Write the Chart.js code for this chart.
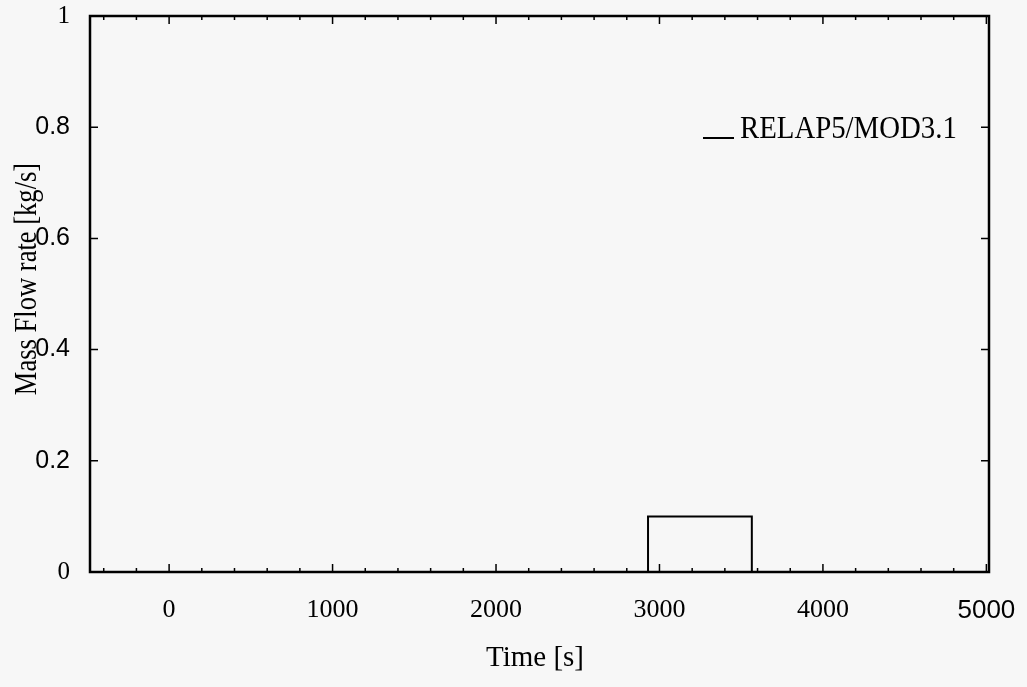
<!DOCTYPE html>
<html>
<head>
<meta charset="utf-8">
<script src="https://cdn.jsdelivr.net/npm/chart.js@4.4.1/dist/chart.umd.min.js"></script>
<style>
  html, body { margin: 0; padding: 0; background: #f7f7f7; }
  #wrap { width: 1027px; height: 687px; }
</style>
</head>
<body>
<div id="wrap"><canvas id="flowChart" width="1027" height="687"></canvas></div>
<script>
// step of the mass flow rate
const timeS = [-484, 2930, 2930, 3565, 3565, 5016];
const flowKgS = [0, 0, 0.1, 0.1, 0, 0];
const xTicks = [0, 1000, 2000, 3000, 4000, 5000];
const yTicks = [0, 0.2, 0.4, 0.6, 0.8, 1];
const seriesName = 'RELAP5/MOD3.1';

const serif = '"Liberation Serif", "Times New Roman", serif';
const sans = '"Liberation Sans", Arial, sans-serif';

// inward ticks on all four sides + frame + titles + legend
const framePlugin = {
    id: 'frame',
    afterDatasetsDraw(chart) {
        const { ctx, chartArea: a, scales: { x, y } } = chart;
        ctx.save();
        ctx.strokeStyle = '#000';
        ctx.lineWidth = 1.5;
        ctx.beginPath();
        for (let v = -400; v <= 5000; v += 200) {
            const px = x.getPixelForValue(v);
            const len = v % 1000 === 0 ? 8 : 4;
            ctx.moveTo(px, a.bottom); ctx.lineTo(px, a.bottom - len);
            ctx.moveTo(px, a.top); ctx.lineTo(px, a.top + len);
        }
        yTicks.forEach(v => {
            const py = y.getPixelForValue(v);
            ctx.moveTo(a.left, py); ctx.lineTo(a.left + 8, py);
            ctx.moveTo(a.right, py); ctx.lineTo(a.right - 8, py);
        });
        ctx.stroke();

        ctx.lineWidth = 2.5;
        ctx.strokeRect(a.left, a.top, a.right - a.left, a.bottom - a.top);

        // legend
        ctx.lineWidth = 2;
        ctx.beginPath();
        ctx.moveTo(703, 138); ctx.lineTo(734, 138);
        ctx.stroke();
        ctx.fillStyle = '#000';
        ctx.textBaseline = 'alphabetic';
        ctx.save();
        ctx.translate(740, 138);
        ctx.scale(0.9, 1);
        ctx.font = '32px ' + serif;
        ctx.textAlign = 'left';
        ctx.fillText(seriesName, 0, 0);
        ctx.restore();

        // axis titles
        ctx.textAlign = 'center';
        ctx.font = '29px ' + serif;
        ctx.fillText('Time [s]', 535, 666);
        ctx.translate(36, 279);
        ctx.rotate(-Math.PI / 2);
        ctx.scale(0.83, 1);
        ctx.font = '32px ' + serif;
        ctx.fillText('Mass Flow rate [kg/s]', 0, 0);
        ctx.restore();
    }
};

const ctx = document.getElementById('flowChart').getContext('2d');
new Chart(ctx, {
    type: 'line',
    data: {
        datasets: [{
            label: seriesName,
            data: timeS.map((t, i) => ({ x: t, y: flowKgS[i] })),
            borderColor: '#000',
            borderWidth: 2,
            pointRadius: 0,
            tension: 0,
            fill: false
        }]
    },
    options: {
        responsive: false,
        animation: false,
        layout: { padding: { left: 0, top: 16, right: 38, bottom: 0 } },
        plugins: {
            legend: { display: false },
            tooltip: { enabled: false }
        },
        scales: {
            x: {
                type: 'linear',
                min: -484,
                max: 5016,
                grid: { display: false },
                border: { display: false },
                afterFit: s => { s.height = 115; s.paddingLeft = 0; s.paddingRight = 0; },
                afterBuildTicks: s => { s.ticks = xTicks.map(v => ({ value: v })); },
                ticks: {
                    color: '#000',
                    padding: 15,
                    maxRotation: 0,
                    callback: v => String(v),
                    font: c => ({ family: c.tick && c.tick.value === 5000 ? sans : serif, size: 26 })
                }
            },
            y: {
                type: 'linear',
                min: 0,
                max: 1,
                grid: { display: false },
                border: { display: false },
                afterFit: s => { s.width = 90; s.paddingTop = 0; s.paddingBottom = 0; },
                afterBuildTicks: s => { s.ticks = yTicks.map(v => ({ value: v })); },
                ticks: {
                    color: '#000',
                    padding: 12,
                    callback: v => String(v),
                    font: c => ({ family: c.tick && (c.tick.value === 0 || c.tick.value === 1) ? serif : sans, size: 25 })
                }
            }
        }
    },
    plugins: [framePlugin]
});
</script>
</body>
</html>
